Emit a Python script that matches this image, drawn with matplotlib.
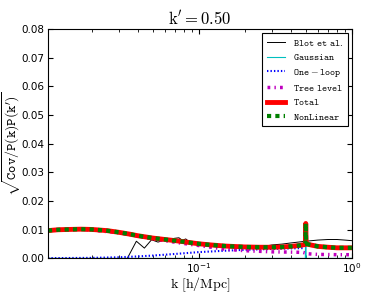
import numpy as np
import matplotlib
matplotlib.use('Agg')
import matplotlib.pyplot as plt

plt.rcParams['mathtext.fontset'] = 'cm'
plt.rcParams['xtick.direction'] = 'in'
plt.rcParams['ytick.direction'] = 'in'
plt.rcParams['xtick.top'] = True
plt.rcParams['ytick.right'] = True
plt.rcParams['xtick.major.pad'] = 2
plt.rcParams['ytick.major.pad'] = 2.5
plt.rcParams['lines.scale_dashes'] = False

# Total (= NonLinear)
k_tot = [0.0103, 0.012, 0.014, 0.017, 0.02, 0.025, 0.03, 0.035, 0.04, 0.05, 0.06, 0.07,
         0.08, 0.1, 0.12, 0.15, 0.2, 0.25, 0.3, 0.35, 0.4, 0.45, 0.49, 0.497, 0.5, 0.503,
         0.51, 0.55, 0.6, 0.7, 0.8, 1.0]
total = [0.0097, 0.0100, 0.0101, 0.0102, 0.0101, 0.0097, 0.0091, 0.0085, 0.0079, 0.0071,
         0.0066, 0.0062, 0.0058, 0.0051, 0.0047, 0.0043, 0.0040, 0.0039, 0.0039, 0.0040,
         0.0042, 0.0045, 0.0048, 0.0050, 0.0122, 0.0052, 0.0050, 0.0046, 0.0042, 0.0039,
         0.0037, 0.0037]
nonlinear = total

# Blot et al. simulations
k_blot = [0.0103, 0.034, 0.039, 0.044, 0.049, 0.054, 0.059, 0.064, 0.069, 0.074, 0.078,
          0.082, 0.087, 0.093, 0.1, 0.107, 0.113, 0.12, 0.128, 0.14, 0.16, 0.18, 0.2,
          0.22, 0.25, 0.28, 0.3, 0.35, 0.4, 0.5, 0.6, 0.7, 0.8, 0.9, 1.0]
blot = [0.0, 0.0, 0.0060, 0.0036, 0.0065, 0.0057, 0.0063, 0.0062, 0.0070, 0.0072, 0.0063,
        0.0068, 0.0057, 0.0052, 0.0055, 0.0048, 0.0052, 0.0046, 0.0052, 0.0044, 0.0043,
        0.0041, 0.0043, 0.0041, 0.0043, 0.0044, 0.0047, 0.0050, 0.0054, 0.0060, 0.0064,
        0.0066, 0.0066, 0.0064, 0.0062]

# Gaussian: only on the diagonal k = k'
k_gauss = [0.0103, 0.497, 0.5, 0.503, 1.0]
gauss = [0.0, 0.0, 0.0118, 0.0, 0.0]

# One-loop
k_loop = [0.0103, 0.02, 0.03, 0.04, 0.05, 0.06, 0.08, 0.1, 0.15, 0.2, 0.3, 0.4, 0.48]
loop = [0.0001, 0.0002, 0.0004, 0.0007, 0.0010, 0.0013, 0.0018, 0.0022, 0.0027, 0.0030,
        0.0033, 0.0035, 0.0036]

# Tree level
k_tree = [0.0103, 0.017, 0.03, 0.05, 0.08, 0.1, 0.15, 0.2, 0.3, 0.4, 0.48, 0.52, 0.6, 0.8, 1.0]
tree = [0.0097, 0.0102, 0.0090, 0.0068, 0.0052, 0.0045, 0.0032, 0.0027, 0.0023, 0.0022,
        0.0021, 0.0016, 0.0014, 0.0013, 0.0013]

fig = plt.figure(figsize=(3.9, 2.93), dpi=100)
ax = fig.add_axes([0.123, 0.118, 0.779, 0.783])

ax.plot(k_blot, blot, color='k', lw=0.7, label=r'$\mathtt{Blot\ et\ al.}$')
ax.plot(k_gauss, gauss, color='c', lw=0.8, label=r'$\mathtt{Gaussian}$')
ax.plot(k_loop, loop, color='b', ls=(0, (1, 1.5)), lw=1.5, label=r'$\mathtt{One-loop}$')
ax.plot(k_tree, tree, color='m', ls=(0, (2, 3, 1, 3)), lw=2.5, label=r'$\mathtt{Tree\ level}$')
ax.plot(k_tot, total, color='r', lw=3.5, label=r'$\mathtt{Total}$')
ax.plot(k_tot, nonlinear, color='g', ls=(0, (3, 3)), lw=3, label=r'$\mathtt{NonLinear}$')

ax.set_xscale('log')
ax.set_xlim(0.0103, 1.0)
ax.set_ylim(0, 0.08)
ax.set_yticks(np.arange(0, 0.081, 0.01))
ax.tick_params(labelsize=7.5)
ax.set_title(r"$\mathrm{k'=0.50}$", fontsize=12, pad=3)
ax.set_xlabel(r'$\mathrm{k\ [h/Mpc]}$', fontsize=10, labelpad=0)
ax.set_ylabel(r"$\sqrt{\mathtt{Cov/P(k)P(k')}}$", fontsize=10, labelpad=-1)

leg = ax.legend(loc='upper right', fontsize=7, fancybox=False, edgecolor='k',
                handlelength=1.8, borderpad=0.5, labelspacing=0.45, framealpha=1,
                borderaxespad=0.4)
leg.get_frame().set_linewidth(0.8)

fig.savefig('out.png', dpi=100)
